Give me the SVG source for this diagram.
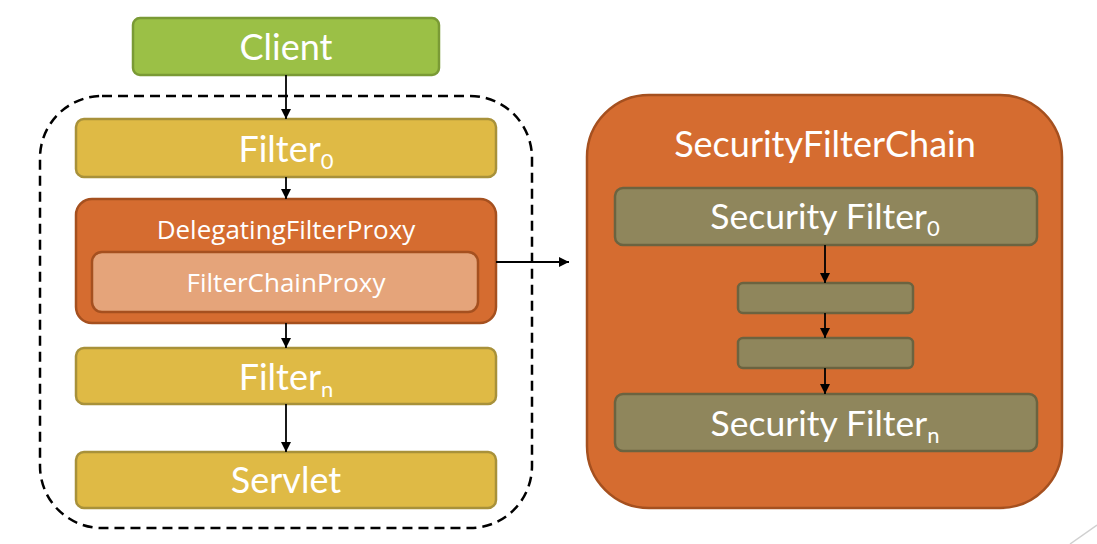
<svg xmlns="http://www.w3.org/2000/svg" width="1097" height="544" viewBox="0 0 1097 544">
  <defs>
    <marker id="arr" viewBox="0 0 10 10" refX="10" refY="5" markerWidth="10" markerHeight="10" markerUnits="userSpaceOnUse" orient="auto">
      <path d="M0,0 L10,5 L0,10 z" fill="#000"/>
    </marker>
    <style>
      text { font-family: Lato, "Open Sans", "Liberation Sans", sans-serif; fill: #ffffff; text-anchor: middle; }
      .client { fill: #9bc046; stroke: #7a9a35; stroke-width: 2.5; }
      .filter { fill: #dfba45; stroke: #a8913a; stroke-width: 2.5; }
      .orange { fill: #d56c30; stroke: #a5501f; stroke-width: 2.5; }
      .light { fill: #e5a47a; stroke: #a5501f; stroke-width: 2.5; }
      .sec { fill: #8f865c; stroke: #6b6340; stroke-width: 2.5; }
      .conn { stroke: #000; stroke-width: 1.8; fill: none; marker-end: url(#arr); }
      .big { font-size: 36px; }
      .mid { font-family: "Open Sans", Lato, sans-serif; font-size: 26px; }
    </style>
  </defs>
  <rect width="1097" height="544" fill="#ffffff"/>
  <line x1="1070" y1="544" x2="1097" y2="525" stroke="#d0d0d0" stroke-width="1.5"/>

  <g id="servlet-container">
    <rect x="40" y="96" width="492" height="432" rx="62" ry="62" fill="none" stroke="#000" stroke-width="2.5" stroke-dasharray="10,6"/>
  </g>

  <g id="client">
    <rect class="client" x="133" y="18" width="306" height="57" rx="7"/>
    <text class="big" x="286" y="60">Client</text>
  </g>

  <g id="filter0">
    <rect class="filter" x="76" y="119" width="420" height="58" rx="8"/>
    <text class="big" x="286" y="162">Filter<tspan font-size="22" dy="7">0</tspan></text>
  </g>

  <g id="delegating-filter-proxy">
    <rect class="orange" x="76" y="199" width="420" height="124" rx="16"/>
    <text class="mid" x="286" y="239">DelegatingFilterProxy</text>
  </g>

  <g id="filter-chain-proxy">
    <rect class="light" x="92" y="252" width="386" height="60" rx="10"/>
    <text class="mid" x="286" y="292">FilterChainProxy</text>
  </g>

  <g id="filtern">
    <rect class="filter" x="76" y="348" width="420" height="56" rx="8"/>
    <text class="big" x="286" y="390">Filter<tspan font-size="22" dy="7">n</tspan></text>
  </g>

  <g id="servlet">
    <rect class="filter" x="76" y="452" width="420" height="56" rx="8"/>
    <text class="big" x="286" y="493">Servlet</text>
  </g>

  <g id="security-filter-chain">
    <rect class="orange" x="587" y="95" width="475" height="413" rx="62" ry="62"/>
    <text x="825" y="157" font-size="36">SecurityFilterChain</text>
  </g>

  <g id="security-filter0">
    <rect class="sec" x="615" y="188" width="422" height="57" rx="8"/>
    <text x="825" y="229" font-size="35.5">Security Filter<tspan font-size="22" dy="7">0</tspan></text>
  </g>

  <g id="security-filter-mid1">
    <rect class="sec" x="738" y="283" width="175" height="30" rx="5"/>
  </g>

  <g id="security-filter-mid2">
    <rect class="sec" x="738" y="338" width="175" height="30" rx="5"/>
  </g>

  <g id="security-filtern">
    <rect class="sec" x="615" y="394" width="422" height="57" rx="8"/>
    <text x="825" y="436" font-size="35.5">Security Filter<tspan font-size="22" dy="7">n</tspan></text>
  </g>

  <g id="connectors">
    <line class="conn" x1="286" y1="75" x2="286" y2="119"/>
    <line class="conn" x1="286" y1="177" x2="286" y2="199"/>
    <line class="conn" x1="286" y1="323" x2="286" y2="348"/>
    <line class="conn" x1="286" y1="404" x2="286" y2="452"/>
    <line class="conn" x1="496" y1="262" x2="569" y2="262"/>
    <line class="conn" x1="825" y1="245" x2="825" y2="283"/>
    <line class="conn" x1="825" y1="313" x2="825" y2="338"/>
    <line class="conn" x1="825" y1="368" x2="825" y2="394"/>
  </g>
</svg>
